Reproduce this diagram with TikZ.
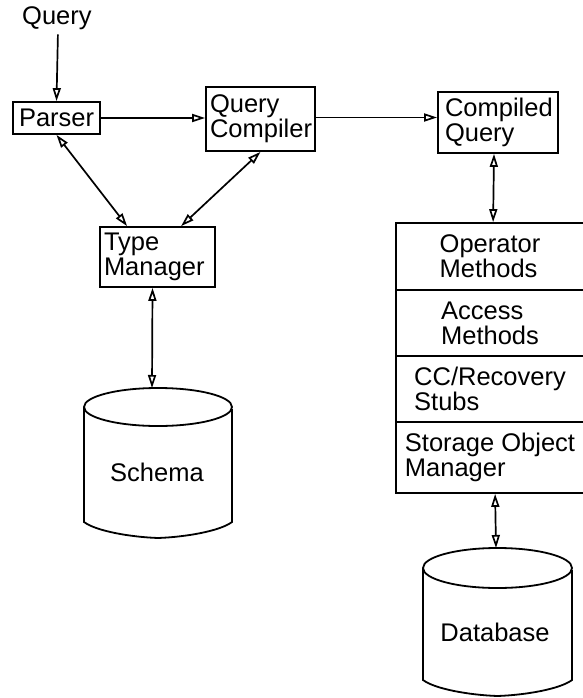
\documentclass[tikz,border=0pt]{standalone}
\usepackage{fontspec}
\setmainfont{Liberation Sans}
\usetikzlibrary{arrows.meta,calc}
\begin{document}
\begin{tikzpicture}[x=1pt,y=-1pt,
  every node/.style={font=\fontsize{25.5}{25}\selectfont},
  box/.style={draw,line width=1.8pt,inner ysep=0pt,align=left,anchor=center},
  cell/.style={draw,line width=1.8pt,inner sep=0pt,align=left,minimum width=188pt,anchor=center},
  plain/.style={inner sep=0pt},
  tip/.style={},
  arr/.style={line width=1.7pt,-{Triangle[open,length=13pt,width=8pt]}},
  darr/.style={line width=1.7pt,{Triangle[open,length=13pt,width=8pt]}-{Triangle[open,length=13pt,width=8pt]}},
  cyl/.style={line width=1.8pt}]
\useasboundingbox (0,0) rectangle (582,698);
% Query label
\node[plain,anchor=base west] (q) at (22,25) {Query};
% boxes
\node[box,minimum width=87pt,minimum height=32pt,text width=75pt,inner xsep=6pt] (parser) at (56.5,118) {Parser};
\node[box,minimum width=109pt,minimum height=64pt,text width=101pt,inner xsep=4pt] (qc) at (260.5,119) {Query\\Compiler};
\node[box,minimum width=120pt,minimum height=61pt,text width=106pt,inner xsep=7pt] (cq) at (498,122.5) {Compiled\\Query};
\node[box,minimum width=115pt,minimum height=60pt,text width=107pt,inner xsep=4pt] (tm) at (157.5,257) {Type\\Manager};
% stack
\node[cell,minimum height=67pt] (c1) at (490,256.5) {Operator\\Methods};
\node[cell,minimum height=66pt] (c2) at (490,323) {Access\\Methods};
\node[cell,minimum height=66pt] (c3) at (490,389) {CC/Recovery\\Stubs};
\node[cell,minimum height=71pt] (c4) at (490,457.5) {Storage Object\\Manager};
% Schema cylinder
\draw[cyl] (158,407) ellipse [x radius=74, y radius=19];
\draw[cyl] (84,407) -- (84,522) .. controls (96,531) and (130,537) .. (158,538)
  .. controls (186,537) and (220,531) .. (232,522) -- (232,409);
\node[plain] (schema) at (157,472) {Schema};
\coordinate (schematop) at (152,388);
% Database cylinder
\draw[cyl] (497.5,568) ellipse [x radius=74.5, y radius=20];
\draw[cyl] (423,568) -- (423,680) .. controls (435,689) and (469,695) .. (497.5,696)
  .. controls (526,695) and (560,689) .. (572,680) -- (572,570);
\node[plain] (db) at (495,632) {Database};
\coordinate (dbtop) at (496,548);
% connectors
\draw[arr] ($(q.south)+(1,4)$) -- (parser.north);
\draw[arr] (parser.east) -- (qc.west |- parser.east);
\draw[arr] (qc.east |- cq.west) ++(0,-5) -- ($(cq.west)+(0,-5)$);
\draw[darr] (parser.south) -- ($(tm.north west)+(28,0)$);
\draw[darr] (qc.south) -- ($(tm.north west)+(82,0)$);
\draw[darr] ($(tm.south)+(-5,0)$) -- (schematop);
\draw[darr] ($(cq.south)+(-4,0)$) -- ($(c1.north west)+(98,0)$);
\draw[darr] ($(c4.south west)+(100,0)$) -- (dbtop);
\end{tikzpicture}
\end{document}
